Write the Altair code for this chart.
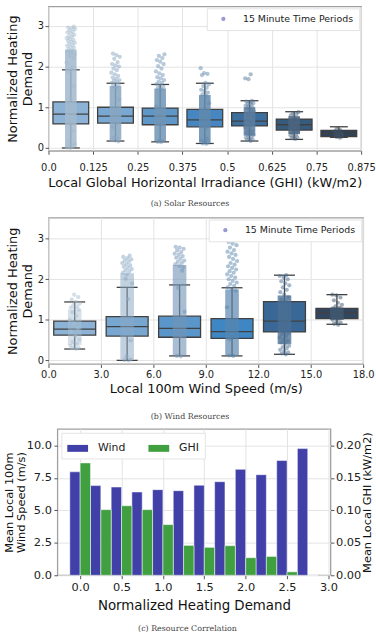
import altair as alt
import pandas as pd

# ---------------- (a) Solar resources ----------------
ghi_bins = [0.0, 0.125, 0.25, 0.375, 0.5, 0.625, 0.75]
ghi_lo  = [0.00, 0.17, 0.15, 0.11, 0.17, 0.21, 0.26]
ghi_q1  = [0.59, 0.61, 0.57, 0.52, 0.54, 0.44, 0.28]
ghi_med = [0.83, 0.78, 0.78, 0.69, 0.66, 0.57, 0.36]
ghi_q3  = [1.13, 1.00, 0.98, 0.95, 0.87, 0.71, 0.43]
ghi_hi  = [1.92, 1.59, 1.56, 1.59, 1.16, 0.89, 0.52]
ghi_core_lo = [0.03, 0.20, 0.17, 0.13, 0.30, 0.34, 0.30]
ghi_core_hi = [2.42, 1.52, 1.46, 1.30, 1.00, 0.78, 0.30]
ghi_pts = [
    [2.40, 2.43, 2.46, 2.48, 2.51, 2.53, 2.56, 2.58, 2.61, 2.63, 2.65, 2.68, 2.70, 2.73, 2.75,
     2.78, 2.81, 2.84, 2.86, 2.89, 2.92, 2.94, 2.96, 2.98, 0.00, 0.01, 0.03, 0.05, 2.30, 2.35,
     2.37, 2.20, 2.26, 2.10, 1.98, 1.87, 1.52, 1.21, 0.79, 0.42, 0.16, 0.09],
    [1.49, 1.52, 1.55, 1.58, 1.60, 1.62, 1.65, 1.67, 1.70, 1.73, 1.77, 1.81, 1.85, 1.91, 1.95,
     2.00, 2.03, 2.06, 2.11, 2.19, 2.24, 2.28, 2.32, 0.16, 0.18, 0.20, 0.23, 0.25, 1.19, 0.88, 0.51],
    [1.44, 1.47, 1.50, 1.53, 1.57, 1.60, 1.63, 1.67, 1.71, 1.74, 1.79, 1.83, 1.88, 1.95, 2.01,
     2.06, 2.12, 2.16, 2.21, 2.26, 2.30, 0.14, 0.15, 0.17, 0.19, 1.02, 0.61],
    [1.29, 1.32, 1.36, 1.40, 1.43, 1.48, 1.52, 1.56, 1.60, 1.79, 1.82, 1.84, 1.96, 0.10, 0.11,
     0.13, 0.15, 0.18, 0.23, 0.81, 1.10, 0.49],
    [0.17, 0.19, 0.21, 0.23, 0.25, 0.27, 0.30, 0.32, 0.35, 0.38, 0.42, 0.47, 0.50, 0.55, 0.61,
     0.64, 0.70, 0.75, 0.81, 0.85, 0.90, 0.94, 0.98, 1.00, 1.02, 1.04, 1.07, 1.08, 1.10, 1.12,
     1.14, 1.16, 1.69, 1.71, 1.81, 0.62, 0.68, 0.73, 0.78, 0.88],
    [0.22, 0.24, 0.26, 0.28, 0.31, 0.33, 0.36, 0.40, 0.44, 0.48, 0.52, 0.55, 0.60, 0.64, 0.67,
     0.72, 0.75, 0.80, 0.83, 0.85, 0.88, 0.50, 0.58, 0.62],
    [0.25, 0.27, 0.28, 0.29, 0.30, 0.31, 0.32, 0.33, 0.35, 0.36, 0.37, 0.39, 0.41, 0.44, 0.47],
]
ghi_box_colors = ["#8cb3d6", "#79a8d2", "#5f97c8", "#4687c1", "#3d6f9e", "#375b7c", "#2f4257"]
ghi_pt_colors  = ["#a2b9cd", "#87a6c2", "#7094b5", "#6189ae", "#5a7c9d", "#4b6580", "#3e5064"]
ghi_core_alpha = [0.85, 0.85, 0.85, 0.8, 0.5, 0.45, 0.0]
ghi_ticks = [0, 0.125, 0.25, 0.375, 0.5, 0.625, 0.75, 0.875]

# ---------------- (b) Wind resources ----------------
wind_bins = [0.0, 3.0, 6.0, 9.0, 12.0, 15.0]
wind_lo  = [0.28, 0.00, 0.11, 0.11, 0.15, 0.89]
wind_q1  = [0.62, 0.60, 0.57, 0.54, 0.70, 1.03]
wind_med = [0.77, 0.83, 0.79, 0.71, 0.97, 1.18]
wind_q3  = [0.97, 1.08, 1.09, 1.03, 1.45, 1.28]
wind_hi  = [1.44, 1.80, 1.86, 1.79, 2.10, 1.62]
wind_core_lo = [0.38, 0.03, 0.12, 0.12, 0.40, 1.00]
wind_core_hi = [1.25, 2.15, 2.35, 1.75, 1.60, 1.30]
wind_pts = [
    [0.28, 0.30, 0.32, 0.34, 0.36, 0.41, 0.45, 0.51, 0.60, 0.71, 0.80, 0.91, 1.00, 1.10, 1.19,
     1.25, 1.28, 1.30, 1.33, 1.36, 1.40, 1.44, 1.50, 1.56, 1.62],
    [0.00, 0.01, 0.02, 2.12, 2.16, 2.19, 2.22, 2.25, 2.28, 2.31, 2.34, 2.37, 2.40, 2.43, 2.46,
     2.49, 2.52, 2.55, 2.58, 2.01, 1.90, 1.51, 1.02, 0.49, 0.10],
    [0.10, 0.11, 2.30, 2.33, 2.37, 2.40, 2.43, 2.46, 2.50, 2.53, 2.57, 2.60, 2.63, 2.67, 2.71,
     2.75, 2.78, 2.80, 2.21, 1.79, 1.20, 0.61],
    [0.11, 0.12, 1.72, 1.76, 1.80, 1.84, 1.88, 1.92, 1.96, 2.00, 2.04, 2.08, 2.12, 2.16, 2.20,
     2.24, 2.28, 2.32, 2.36, 2.40, 2.45, 2.50, 2.55, 2.60, 2.64, 2.68, 2.72, 2.78, 2.84, 2.88,
     2.92, 2.96, 3.00, 1.31, 0.90, 0.52],
    [0.15, 0.17, 0.20, 0.23, 0.26, 0.30, 0.33, 0.36, 0.40, 0.44, 0.48, 0.52, 0.56, 0.60, 0.64,
     0.67, 0.70, 0.73, 0.76, 0.80, 0.84, 0.88, 0.92, 0.96, 1.00, 1.04, 1.08, 1.12, 1.16, 1.20,
     1.25, 1.30, 1.35, 1.40, 1.45, 1.50, 1.56, 1.62, 1.68, 1.74, 1.80, 1.85, 1.90, 1.95, 2.00,
     2.04, 2.08, 2.10],
    [0.88, 0.90, 0.93, 0.96, 1.00, 1.03, 1.06, 1.08, 1.10, 1.12, 1.14, 1.16, 1.18, 1.20, 1.22,
     1.24, 1.26, 1.28, 1.30, 1.33, 1.37, 1.42, 1.48, 1.55, 1.60, 1.62],
]
wind_box_colors = ["#8cb3d6", "#77a7d0", "#5a96ca", "#3f86c4", "#3a6896", "#30475f"]
wind_pt_colors  = ["#a6bdd1", "#8aa8c4", "#7294b5", "#5a85ac", "#4a6f93", "#3f5870"]
wind_core_alpha = [0.45, 0.85, 0.85, 0.85, 0.0, 0.0]
wind_ticks = [0, 3, 6, 9, 12, 15, 18]

# ---------------- (c) Resource correlation ----------------
demand_bins = [0.0, 0.25, 0.5, 0.75, 1.0, 1.25, 1.5, 1.75, 2.0, 2.25, 2.5, 2.75]
mean_wind = [7.96, 6.90, 6.79, 6.41, 6.59, 6.51, 6.93, 7.20, 8.15, 7.74, 8.83, 9.75]
mean_ghi  = [0.173, 0.101, 0.107, 0.101, 0.078, 0.046, 0.043, 0.0455, 0.027, 0.029, 0.0053, 0.0]
series_names = ["Wind", "GHI"]
series_colors = ["#4040a8", "#40a040"]

LINE = "#404040"
FONT = "DejaVu Sans"
LEGEND_DOT = "#9999d1"


def caption_title(text, dx, offset):
    return alt.TitleParams(text, orient="bottom", font="DejaVu Serif", fontSize=8,
                           fontWeight="normal", color="#444", anchor="middle", frame="group",
                           dx=dx, offset=offset)


def with_left_gap(panel, gap):
    spacer = alt.Chart(pd.DataFrame({"s": [0]})).mark_point(size=1, opacity=0).encode(
        x=alt.value(0), y=alt.value(0)
    ).properties(width=1, height=1, view=alt.ViewBackground(strokeWidth=0, stroke="transparent"))
    return alt.hconcat(spacer, panel, spacing=gap).resolve_scale(
        color="independent", opacity="independent")


def box_panel(bins, binw, lo, q1, med, q3, hi, core_lo, core_hi, core_alpha, pts,
              box_cols, pt_cols, xdom, ydom, xticks, label_expr, xtitle, width, height,
              caption, cap_dx, cap_offset, lab_pad, title_pad):
    stats = pd.DataFrame(dict(b0=bins, lo=lo, q1=q1, med=med, q3=q3, hi=hi,
                              clo=core_lo, chi=core_hi))
    rows = [dict(b0=b, y=v) for b, vals in zip(bins, pts) for v in vals]
    pdf = pd.DataFrame(rows)
    xsc = alt.Scale(domain=xdom, nice=False, zero=False)
    ysc = alt.Scale(domain=ydom, nice=False, zero=False)
    xax = alt.Axis(values=xticks, labelExpr=label_expr, title=xtitle, labelFontSize=10,
                   titleFontSize=13, labelPadding=lab_pad, titlePadding=title_pad,
                   labelFlush=False)
    yax = alt.Axis(values=[0, 1, 2, 3], title=["Normalized Heating", "Demand"], labelFontSize=10,
                   titleFontSize=13, labelPadding=1.5, titlePadding=3, titleLineHeight=15,
                   minExtent=0)
    box_color = alt.Color("b0:O", scale=alt.Scale(domain=bins, range=box_cols), legend=None)
    pt_color = alt.Color("b0:O", scale=alt.Scale(domain=bins, range=pt_cols), legend=None)

    base = alt.Chart(stats).transform_calculate(
        xc=f"datum.b0 + {binw * 0.5}",
        xl=f"datum.b0 + {binw * 0.1}",
        xr=f"datum.b0 + {binw * 0.9}",
        cl=f"datum.b0 + {binw * 0.3}",
        cr=f"datum.b0 + {binw * 0.7}",
        bl=f"datum.b0 + {binw * 0.37}",
        br=f"datum.b0 + {binw * 0.63}",
    )
    whisker = base.mark_rule(color=LINE, strokeWidth=1.3).encode(
        x=alt.X("xc:Q", scale=xsc, axis=xax),
        y=alt.Y("lo:Q", scale=ysc, axis=yax),
        y2="hi:Q",
    )
    cap_lo = base.mark_rule(color=LINE, strokeWidth=1.3).encode(x="cl:Q", x2="cr:Q", y="lo:Q")
    cap_hi = base.mark_rule(color=LINE, strokeWidth=1.3).encode(x="cl:Q", x2="cr:Q", y="hi:Q")
    box = base.mark_rect(stroke=LINE, strokeWidth=1.3).encode(
        x="xl:Q", x2="xr:Q", y="q1:Q", y2="q3:Q", color=box_color)
    median = base.mark_rule(color=LINE, strokeWidth=1.3).encode(x="xl:Q", x2="xr:Q", y="med:Q")
    core = base.mark_rect().encode(
        x="bl:Q", x2="br:Q", y="clo:Q", y2="chi:Q", color=pt_color,
        opacity=alt.Opacity("b0:O", scale=alt.Scale(domain=bins, range=core_alpha), legend=None),
    )
    points = alt.Chart(pdf).transform_window(
        idx="row_number()", groupby=["b0"]
    ).transform_calculate(
        xj=f"datum.b0 + {binw * 0.5} + ((datum.idx * 0.618034) % 1 - 0.5) * {binw * 0.2}"
    ).mark_circle(size=18, opacity=0.5).encode(x="xj:Q", y="y:Q", color=pt_color)
    legend = alt.Chart(pd.DataFrame({"lab": ["15 Minute Time Periods"]})).mark_circle(
        opacity=0, size=18
    ).encode(
        x=alt.value(0), y=alt.value(0),
        color=alt.Color("lab:N", scale=alt.Scale(range=[LEGEND_DOT]),
                        legend=alt.Legend(title=None, orient="top-right", offset=2,
                                          symbolOpacity=1, symbolSize=18, symbolType="circle",
                                          labelFontSize=9.5, labelFont=FONT, labelColor="#222",
                                          labelOffset=15, symbolOffset=6, padding=6,
                                          fillColor="white", strokeColor="#e4e4e4"))
    )
    return alt.layer(whisker, cap_lo, cap_hi, box, median, core, points, legend).resolve_scale(
        color="independent", opacity="independent"
    ).properties(width=width, height=height, title=caption_title(caption, cap_dx, cap_offset))


panel_a = box_panel(ghi_bins, 0.125, ghi_lo, ghi_q1, ghi_med, ghi_q3, ghi_hi, ghi_core_lo,
                    ghi_core_hi, ghi_core_alpha, ghi_pts, ghi_box_colors, ghi_pt_colors,
                    [0, 0.875], [-0.07, 3.48], ghi_ticks,
                    "datum.value == 0 ? '0.0' : '' + datum.value",
                    "Local Global Horizontal Irradiance (GHI) (kW/m2)", 316, 146,
                    "(a) Solar Resources", -15, 10.5, 8, 4.5)

panel_b = box_panel(wind_bins, 3.0, wind_lo, wind_q1, wind_med, wind_q3, wind_hi, wind_core_lo,
                    wind_core_hi, wind_core_alpha, wind_pts, wind_box_colors, wind_pt_colors,
                    [0, 18], [-0.09, 3.52], wind_ticks, "format(datum.value, '.1f')",
                    "Local 100m Wind Speed (m/s)", 318, 148,
                    "(b) Wind Resources", -16, 17.6, 2.2, 3.5)

# ---- panel (c)
bars = pd.DataFrame(dict(d=demand_bins, wind=mean_wind, ghi=mean_ghi))
basec = alt.Chart(bars).transform_calculate(
    w1="datum.d - 0.125", w2="datum.d", g1="datum.d", g2="datum.d + 0.125",
    sw="'Wind'", sg="'GHI'",
)
ser_color_scale = alt.Scale(domain=series_names, range=series_colors)
xsc_c = alt.Scale(domain=[-0.275, 3.025], nice=False, zero=False)
xax_c = alt.Axis(values=[0, 0.5, 1.0, 1.5, 2.0, 2.5, 3.0], format=".1f",
                 title="Normalized Heating Demand", labelFontSize=11.5, titleFontSize=13.5,
                 labelPadding=3, titlePadding=5.3, labelFlush=False)
wind_layer = basec.mark_rect(stroke="white", strokeWidth=0.5).encode(
    x=alt.X("w1:Q", scale=xsc_c, axis=xax_c),
    x2="w2:Q",
    y=alt.Y("wind:Q", scale=alt.Scale(domain=[0, 11.27], nice=False),
            axis=alt.Axis(values=[0, 2.5, 5.0, 7.5, 10.0], format=".1f",
                          title=["Mean Local 100m", "Wind Speed (m/s)"], labelFontSize=11.5,
                          titleFontSize=11.5, titleLineHeight=12, labelPadding=2.5,
                          titlePadding=0, minExtent=0)),
    y2=alt.datum(0),
    color=alt.Color("sw:N", scale=ser_color_scale,
                    legend=alt.Legend(title=None, orient="top-left", offset=4,
                                      direction="horizontal", symbolType="M-1,-0.333H1V0.333H-1Z",
                                      symbolSize=441, symbolStrokeWidth=0, labelFontSize=11,
                                      labelFont=FONT, labelColor="#222", labelOffset=10,
                                      columnPadding=22, symbolOffset=1, padding=5,
                                      fillColor="white", strokeColor="#e4e4e4")),
)
ghi_layer = basec.mark_rect(stroke="white", strokeWidth=0.5).encode(
    x="g1:Q",
    x2="g2:Q",
    y=alt.Y("ghi:Q", scale=alt.Scale(domain=[0, 0.2254], nice=False),
            axis=alt.Axis(orient="right", values=[0, 0.05, 0.10, 0.15, 0.20], format=".2f",
                          grid=False, title="Mean Local GHI (kW/m2)", titleAngle=270,
                          titleBaseline="top", labelFontSize=11.5, titleFontSize=11.5,
                          labelPadding=1.5, titlePadding=1, minExtent=0)),
    y2=alt.datum(0),
    color=alt.Color("sg:N", scale=ser_color_scale),
)
panel_c = alt.layer(wind_layer, ghi_layer).resolve_scale(y="independent").properties(
    width=276, height=148, title=caption_title("(c) Resource Correlation", -6.5, 13.7))

chart = alt.vconcat(
    with_left_gap(panel_a, 3), with_left_gap(panel_b, 3), with_left_gap(panel_c, 0),
    spacing=5.5,
).properties(
    padding={"left": 0, "top": 0, "right": 0, "bottom": 0}
).resolve_scale(
    color="independent", opacity="independent"
).configure_view(
    stroke="#a0a0a0", strokeWidth=1.3
).configure_axis(
    grid=True, gridColor="#e3e3e3", gridWidth=1, domain=False, tickColor="#555",
    tickSize=3.5, labelColor="#222", titleColor="#111", labelFont=FONT, titleFont=FONT,
    titleFontWeight="normal"
)

chart.save("out.html", embed_options={"renderer": "svg", "actions": False})
